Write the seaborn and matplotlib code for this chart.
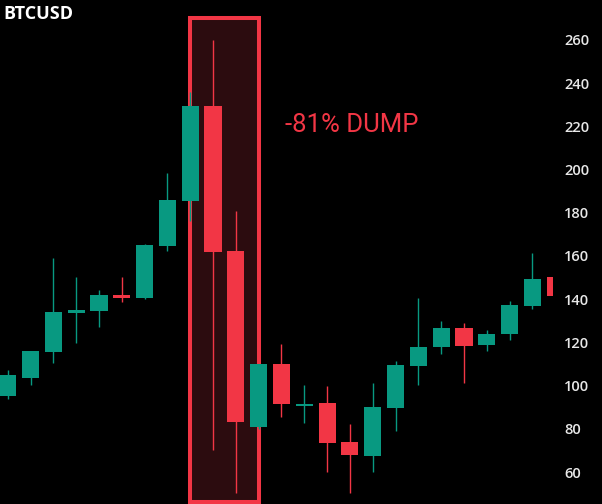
import numpy as np
import pandas as pd
import matplotlib
matplotlib.use("Agg")
import matplotlib.pyplot as plt
import seaborn as sns
from matplotlib.patches import Rectangle

# candle data
opens = [95.2, 103.5, 115.6, 133.6, 134.5, 142.0, 140.6, 164.6, 185.5, 229.4, 162.3, 80.8, 110.0,
         90.5, 92.0, 73.9, 67.4, 89.6, 109.0, 118.0, 126.7, 118.8, 124.0, 137.0, 150.3]
highs = [107.0, 116.0, 159.0, 150.3, 144.3, 150.3, 165.5, 198.4, 236.0, 260.0, 181.0, 110.0, 119.3,
         100.3, 100.0, 82.2, 101.0, 111.4, 140.6, 130.0, 129.0, 125.7, 139.2, 161.4, 150.3]
lows = [94.0, 100.3, 110.5, 119.7, 127.0, 138.7, 140.0, 162.3, 176.0, 70.0, 50.3, 80.0, 85.5,
        82.7, 60.0, 50.3, 60.0, 79.0, 100.3, 114.6, 101.2, 116.0, 121.0, 135.5, 141.5]
closes = [105.0, 116.0, 134.0, 135.0, 142.0, 140.6, 165.0, 186.0, 229.4, 162.0, 83.0, 110.0, 91.5,
          91.2, 73.4, 68.0, 90.0, 109.5, 118.0, 126.7, 118.3, 124.0, 137.3, 149.4, 141.5]
y_ticks = [60, 80, 100, 120, 140, 160, 180, 200, 220, 240, 260]

# dump highlight
dump_start, dump_end = 8, 11
dump_label = "-81% DUMP"
title = "BTCUSD"

green = "#089981"
red = "#f23645"

df = pd.DataFrame({"open": opens, "high": highs, "low": lows, "close": closes})
df["idx"] = np.arange(len(df))
df["color"] = np.where(df["close"] >= df["open"], green, red)

sns.set_theme(style="dark", rc={"axes.facecolor": "black", "figure.facecolor": "black"})
plt.rcParams["font.family"] = ["Open Sans", "DejaVu Sans"]

fig = plt.figure(figsize=(6.02, 5.04), dpi=100)
ax = fig.add_axes([0, 0, 553 / 602, 1])
ax.set_facecolor("black")

# highlight box under the candles
ax.add_patch(Rectangle((dump_start, 46.1), dump_end - dump_start, 270.2 - 46.1,
                       facecolor="#2c0c0f", edgecolor=red, linewidth=2.9, zorder=1))

# wicks and bodies
ax.vlines(df["idx"], df["low"], df["high"], colors=df["color"], linewidth=1.0, zorder=2)
body_low = df[["open", "close"]].min(axis=1)
body_h = (df["close"] - df["open"]).abs().clip(lower=1.2)
ax.bar(df["idx"], body_h, bottom=body_low, width=0.75, color=df["color"], linewidth=0, zorder=3)

ax.text(15.1, 220.6, dump_label, color=red, fontsize=18.5, family=["Roboto", "DejaVu Sans"],
        ha="center", va="center", zorder=4)

ax.set_xlim(-0.337, 23.9)
ax.set_ylim(45.2, 278.5)
ax.set_xticks([])
ax.set_yticks(y_ticks)
ax.yaxis.tick_right()
ax.tick_params(axis="y", length=0, pad=8, labelsize=10.5, labelcolor="#e8e8e8")
for lab in ax.get_yticklabels():
    lab.set_fontweight("semibold")
ax.grid(False)
for s in ax.spines.values():
    s.set_visible(False)

fig.text(3 / 602, 1 - 5 / 504, title, color="white", fontsize=13, fontweight="bold",
         ha="left", va="top")

fig.savefig("out.png", dpi=100, facecolor="black")
